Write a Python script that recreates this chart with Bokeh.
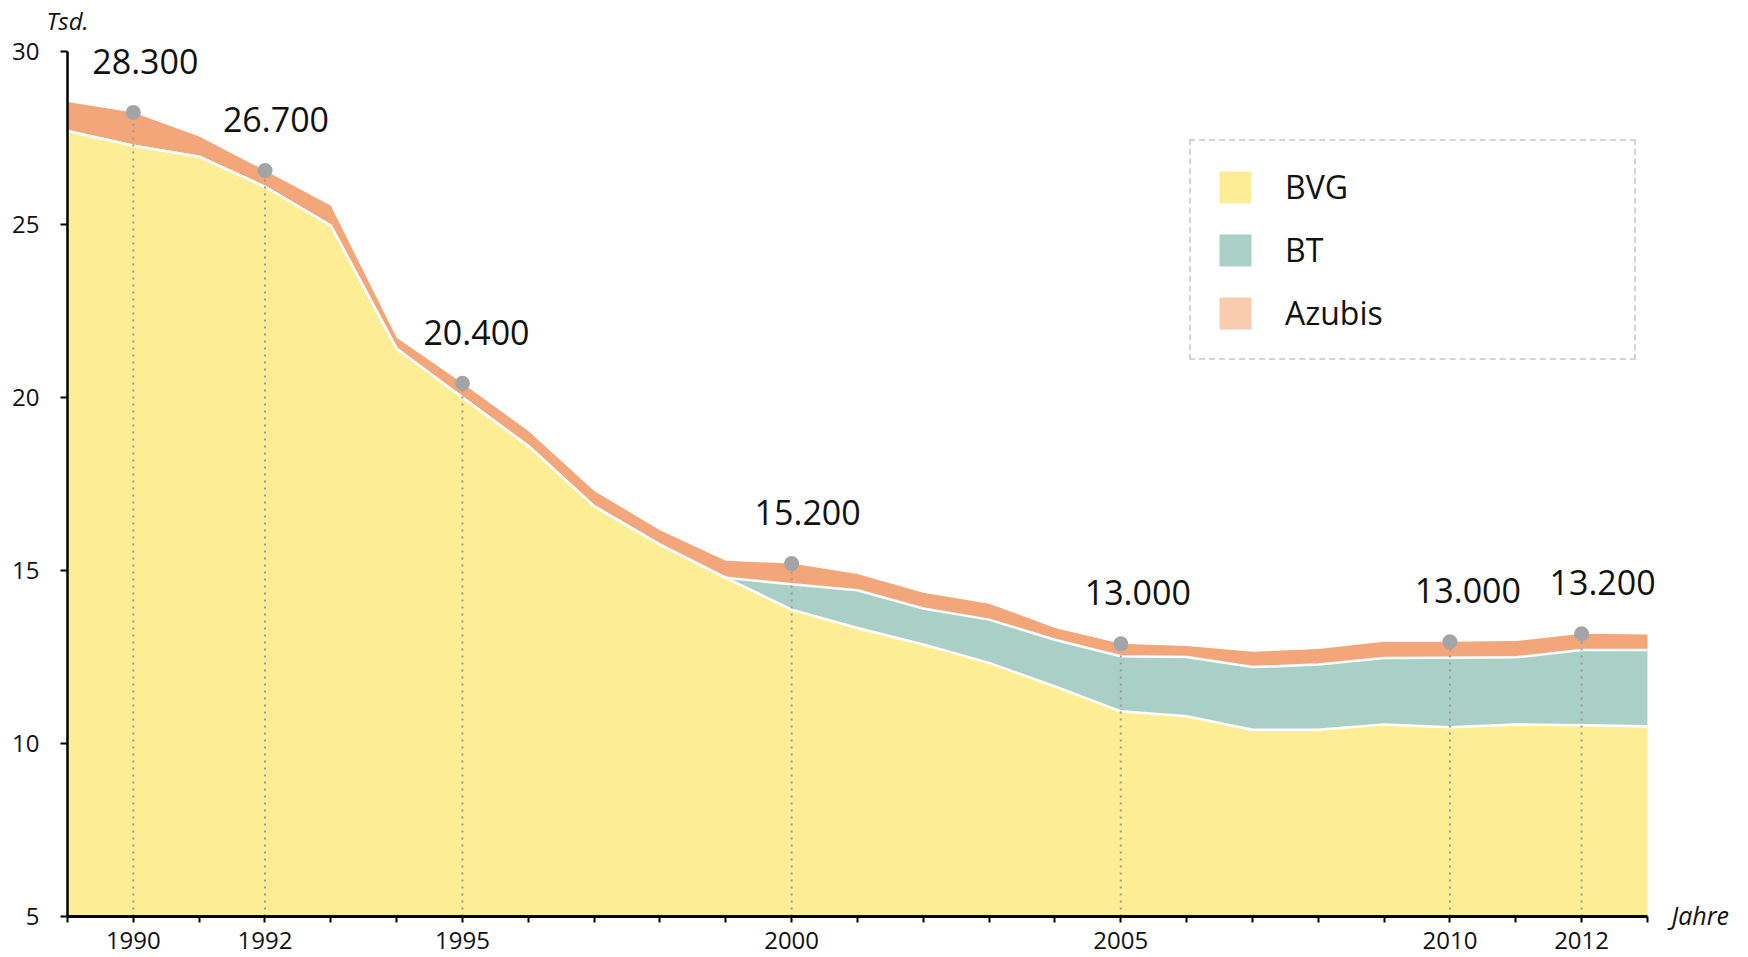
from bokeh.plotting import figure
from bokeh.models import Range1d, FixedTicker, Legend, LegendItem, Label, ColumnDataSource
from bokeh.core.properties import value
from bokeh.embed import file_html
from bokeh.resources import INLINE

# ---- data (Tsd.) ----
years = list(range(1989, 2014))
bvg = [27.70, 27.28, 26.96, 26.09, 24.97, 21.41, 20.00, 18.60, 16.86, 15.75,
       14.79, 13.87, 13.34, 12.86, 12.33, 11.65, 10.93, 10.79, 10.40, 10.40,
       10.55, 10.47, 10.55, 10.53, 10.50]
bt = [0.0, 0.0, 0.0, 0.0, 0.0, 0.0, 0.0, 0.0, 0.0, 0.0,
      0.0, 0.73, 1.09, 1.04, 1.25, 1.35, 1.59, 1.71, 1.81, 1.88,
      1.92, 2.01, 1.94, 2.17, 2.20]
azubis = [0.84, 0.96, 0.58, 0.47, 0.57, 0.32, 0.41, 0.43, 0.44, 0.41,
          0.49, 0.60, 0.47, 0.46, 0.46, 0.34, 0.36, 0.32, 0.44, 0.45,
          0.47, 0.46, 0.47, 0.47, 0.45]
series_names = ["BVG", "BT", "Azubis"]
ann_years = [1990, 1992, 1995, 2000, 2005, 2010, 2012]
ann_labels = ["28.300", "26.700", "20.400", "15.200", "13.000", "13.000", "13.200"]
x_tick_labels = [1990, 1992, 1995, 2000, 2005, 2010, 2012]
y_ticks = [5, 10, 15, 20, 25, 30]
x_min, x_max = 1989, 2013
y_min, y_max = 5, 30

# ---- styles / layout ----
C_BVG = "#fdee95"
C_BT = "#a9cfc7"
C_AZ = "#f4a67b"
C_AZ_LEG = "#f9ccb0"
C_DOT = "#a3a4a7"
FONT = "Open Sans"
W, H = 1748, 957
PX_X = 65.83      # pixels per year
PX_Y = 34.6       # pixels per thousand
PAD_L, PAD_T = 67, 51
ann_dx = [12, 11, 14, 16, 17, 18, 21]   # label offsets (px) right of each dot
xs = x_min - PAD_L / PX_X
ys = y_max + PAD_T / PX_Y

bvg_bt = [a + b for a, b in zip(bvg, bt)]
total = [a + b + c for a, b, c in zip(bvg, bt, azubis)]
ann_tot = [total[years.index(y)] for y in ann_years]

src = ColumnDataSource(dict(year=years, bvg=bvg, bvg_bt=bvg_bt, total=total))
ann = ColumnDataSource(dict(year=ann_years, tot=ann_tot, lab=ann_labels, dx=ann_dx,
                            base=[y_min] * len(ann_years)))

p = figure(width=W, height=H,
           x_range=Range1d(xs, xs + W / PX_X), y_range=Range1d(ys - H / PX_Y, ys),
           output_backend="svg", toolbar_location=None, min_border=0)
p.grid.visible = False
p.outline_line_color = None
p.background_fill_color = "white"

p.varea(x="year", y1=y_min, y2="bvg", source=src, fill_color=C_BVG)
p.varea(x="year", y1="bvg", y2="bvg_bt", source=src, fill_color=C_BT)
p.varea(x="year", y1="bvg_bt", y2="total", source=src, fill_color=C_AZ)
p.line(x="year", y="bvg", source=src, line_color="white", line_width=2.5)
p.line(x="year", y="bvg_bt", source=src, line_color="white", line_width=2.5)

p.segment(x0="year", y0="base", x1="year", y1="tot", source=ann,
          line_color="#999999", line_width=2, line_dash="2 5")
p.scatter(x="year", y="tot", source=ann, size=15, fill_color=C_DOT, line_color=None)
p.text(x="year", y="tot", text="lab", source=ann, x_offset="dx", y_offset=-51,
       text_align="center", text_baseline="alphabetic",
       text_font=value(FONT), text_font_size="34px", text_color="#111111")

# axes at fixed data positions
for ax in (p.xaxis[0], p.yaxis[0]):
    ax.axis_line_color = "black"
    ax.axis_line_width = 2.5
    ax.major_tick_line_color = "black"
    ax.major_tick_line_width = 2
    ax.major_tick_in = 0
    ax.major_tick_out = 7
    ax.minor_tick_line_color = None
    ax.major_label_text_font = FONT
    ax.major_label_text_font_size = "24px"
    ax.major_label_text_color = "#111111"

p.yaxis.fixed_location = x_min
p.yaxis.bounds = (y_min, y_max)
p.yaxis.ticker = FixedTicker(ticks=y_ticks)
p.yaxis.major_label_standoff = 21
p.xaxis.fixed_location = y_min
p.xaxis.bounds = (x_min, x_max)
p.xaxis.axis_line_width = 3
p.xaxis.ticker = FixedTicker(ticks=years)
p.xaxis.major_tick_out = 6
p.xaxis.major_label_overrides = {y: ("" if y not in x_tick_labels else str(y)) for y in years}
p.xaxis.major_label_standoff = 9

p.add_layout(Label(x=x_min, y=y_max, text="Tsd.", text_align="center", text_baseline="middle",
                   y_offset=31, text_font=FONT, text_font_style="italic",
                   text_font_size="24px", text_color="#111111"))
p.add_layout(Label(x=x_max, y=y_min, text="Jahre", text_align="left", text_baseline="middle",
                   x_offset=24, y_offset=2, text_font=FONT, text_font_style="italic",
                   text_font_size="25px", text_color="#111111"))

# legend (hidden renderers carry the swatch colours)
leg_colors = [C_BVG, C_BT, C_AZ_LEG]
tops = [bvg, bvg_bt, total]
bottoms = [[y_min] * len(years), bvg, bvg_bt]
items = []
for name, fc, t, b in zip(series_names, leg_colors, tops, bottoms):
    r = p.varea(x=years, y1=b, y2=t, fill_color=fc, visible=False)
    items.append(LegendItem(label=name, renderers=[r]))
legend = Legend(items=items, location=(1189, 597), glyph_width=40, glyph_height=40,
                spacing=20, padding=24, label_standoff=30, label_width=325,
                label_text_font=FONT, label_text_font_size="32px",
                label_text_color="#111111",
                border_line_color="#aaaaaa", border_line_width=2, border_line_dash="2 6",
                background_fill_color="white", background_fill_alpha=1.0)
p.add_layout(legend, "center")

open("out.html", "w").write(file_html(p, INLINE))
